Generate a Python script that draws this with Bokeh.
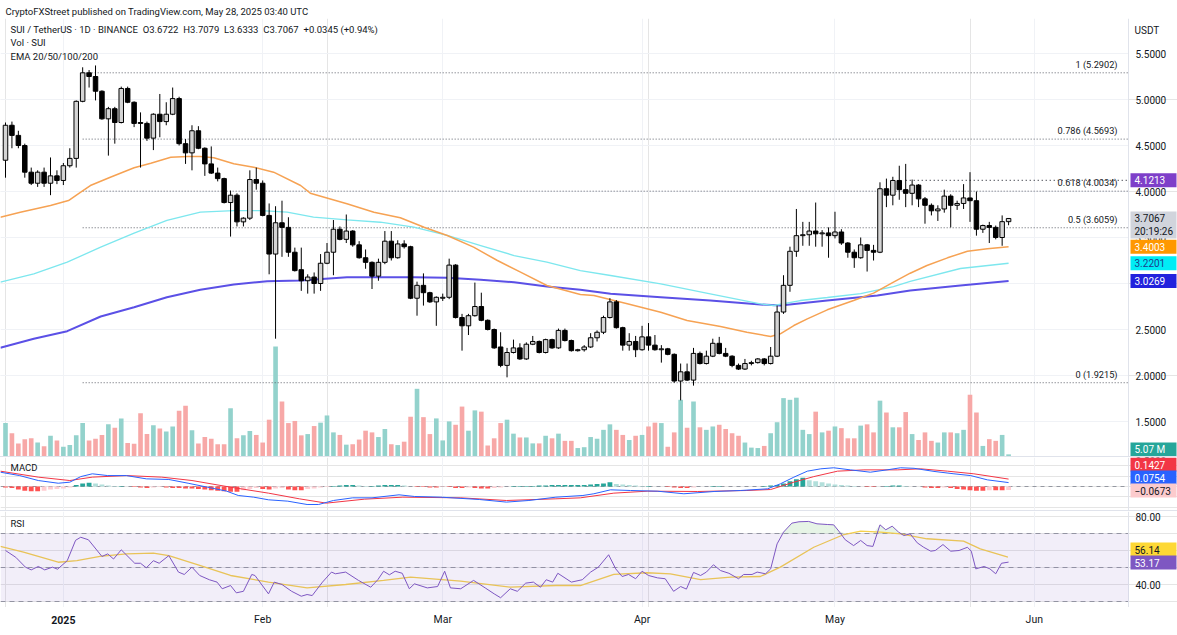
import numpy as np
from bokeh.plotting import figure
from bokeh.layouts import column
from bokeh.models import (ColumnDataSource, Range1d, FixedTicker, Div, Span,
                          BoxAnnotation, Grid)
from bokeh.core.properties import value
from bokeh.embed import file_html
from bokeh.resources import INLINE

FONT = "Roboto"
INK = "#131722"
FS = "10px"
FS_NOTE = "9.5px"

# ---- SUI/USDT daily candles, day 0 = 2024-12-23, last = 2025-05-28 ----
opens = [4.34, 4.72, 4.61, 4.50, 4.21, 4.09, 4.21, 4.09, 4.17,
         4.12, 4.28, 4.36, 4.98, 5.29, 5.25, 5.09, 4.79, 4.90, 4.75,
         5.12, 4.97, 4.75, 4.74, 4.58, 4.84, 4.76, 4.84, 5.01, 4.52,
         4.42, 4.66, 4.47, 4.30, 4.20, 4.14, 3.88, 3.96, 3.67, 3.71, 4.13,
         4.09, 3.74, 3.32, 3.66, 3.61, 3.34, 3.15, 3.03, 3.07, 3.00,
         3.22, 3.34, 3.59, 3.48, 3.57, 3.42, 3.28, 3.23, 3.08, 3.23,
         3.46, 3.28, 3.43, 3.40, 2.84, 2.98, 2.90, 2.80,
         2.84, 2.85, 3.20, 2.63, 2.54, 2.65, 2.75, 2.60, 2.50, 2.31,
         2.11, 2.25, 2.30, 2.18, 2.34, 2.37, 2.25, 2.39, 2.30, 2.49,
         2.38, 2.27, 2.28, 2.31, 2.41, 2.47, 2.63, 2.80, 2.52, 2.33, 2.37,
         2.28, 2.42, 2.33, 2.28, 2.29, 2.23, 1.94, 2.04, 1.95, 2.24,
         2.13, 2.21, 2.35, 2.24, 2.21, 2.11, 2.07, 2.13, 2.14, 2.18,
         2.13, 2.21, 2.69, 2.98, 3.35, 3.52, 3.53, 3.57, 3.54, 3.55,
         3.52, 3.56, 3.44, 3.34, 3.28, 3.42, 3.36, 3.34, 4.03, 3.96,
         4.12, 4.02, 3.98, 4.07, 3.92, 3.85, 3.79, 3.81, 3.95, 3.85,
         3.87, 3.93, 3.90, 3.59, 3.63, 3.61, 3.50, 3.6722]
highs = [4.75, 4.76, 4.66, 4.52, 4.26, 4.23, 4.26, 4.37, 4.23,
         4.31, 4.47, 4.99, 5.35, 5.32, 5.37, 5.10, 4.92, 4.92, 5.14,
         5.14, 4.98, 4.86, 4.76, 4.85, 5.06, 4.97, 5.13, 5.03, 4.57,
         4.72, 4.71, 4.48, 4.49, 4.26, 4.15, 4.01, 3.98, 3.72, 4.23, 4.26,
         4.12, 3.87, 3.84, 3.90, 3.72, 3.39, 3.39, 3.10, 3.12, 3.32,
         3.44, 3.69, 3.62, 3.75, 3.58, 3.46, 3.37, 3.24, 3.27, 3.57,
         3.57, 3.47, 3.47, 3.41, 3.02, 3.11, 2.91, 2.86,
         2.89, 3.27, 3.21, 2.67, 2.67, 3.01, 2.90, 2.61, 2.51, 2.47,
         2.30, 2.39, 2.35, 2.36, 2.43, 2.38, 2.40, 2.40, 2.51, 2.51,
         2.39, 2.29, 2.33, 2.46, 2.49, 2.65, 2.84, 2.82, 2.53, 2.46, 2.43,
         2.54, 2.57, 2.44, 2.33, 2.30, 2.24, 2.13, 2.13, 2.30, 2.26,
         2.27, 2.40, 2.42, 2.30, 2.22, 2.13, 2.18, 2.16, 2.19, 2.19,
         2.31, 2.76, 3.09, 3.40, 3.81, 3.67, 3.67, 3.88, 3.58, 3.61,
         3.78, 3.59, 3.45, 3.37, 3.50, 3.43, 3.42, 4.10, 4.14, 4.16,
         4.28, 4.30, 4.13, 4.08, 3.94, 3.87, 3.85, 4.02, 3.97, 3.90,
         4.08, 4.21, 4.00, 3.64, 3.67, 3.63, 3.74, 3.7079]
lows = [4.15, 4.47, 4.47, 4.15, 4.07, 4.05, 4.05, 3.96, 4.08,
        4.07, 4.26, 4.26, 4.97, 5.13, 4.99, 4.78, 4.39, 4.52, 4.74,
        4.96, 4.70, 4.26, 4.55, 4.45, 4.59, 4.72, 4.83, 4.50, 4.30,
        4.23, 4.46, 4.17, 4.19, 4.11, 3.87, 3.51, 3.62, 3.62, 3.69, 4.02,
        3.73, 3.10, 2.40, 3.29, 3.29, 3.13, 2.92, 2.89, 2.89, 2.92,
        3.21, 3.09, 3.47, 3.44, 3.40, 3.27, 3.16, 2.94, 3.03, 3.21,
        3.25, 3.27, 3.38, 2.83, 2.65, 2.76, 2.79, 2.54,
        2.81, 2.83, 2.62, 2.27, 2.44, 2.64, 2.59, 2.49, 2.29, 2.09,
        1.98, 2.24, 2.17, 2.17, 2.33, 2.24, 2.24, 2.29, 2.29, 2.37,
        2.26, 2.26, 2.26, 2.30, 2.37, 2.45, 2.62, 2.51, 2.27, 2.27, 2.20,
        2.27, 2.27, 2.27, 2.14, 2.22, 1.92, 1.73, 1.94, 1.89, 2.12,
        2.12, 2.20, 2.23, 2.20, 2.09, 2.06, 2.06, 2.11, 2.13, 2.11,
        2.12, 2.20, 2.67, 2.91, 3.29, 3.41, 3.41, 3.40, 3.40, 3.28,
        3.49, 3.42, 3.28, 3.17, 3.27, 3.13, 3.25, 3.33, 3.83, 3.85,
        3.91, 3.83, 3.85, 3.83, 3.65, 3.74, 3.68, 3.77, 3.61, 3.80,
        3.81, 3.67, 3.52, 3.55, 3.44, 3.48, 3.41, 3.6333]
closes = [4.72, 4.61, 4.50, 4.21, 4.09, 4.21, 4.09, 4.17, 4.12,
          4.28, 4.36, 4.98, 5.29, 5.25, 5.09, 4.79, 4.90, 4.75, 5.12,
          4.97, 4.74, 4.74, 4.58, 4.84, 4.76, 4.84, 5.01, 4.52, 4.42,
          4.66, 4.47, 4.30, 4.20, 4.14, 3.88, 3.96, 3.67, 3.71, 4.13, 4.09,
          3.74, 3.32, 3.66, 3.61, 3.34, 3.14, 3.03, 3.07, 3.00, 3.22,
          3.34, 3.59, 3.48, 3.57, 3.42, 3.28, 3.23, 3.08, 3.23, 3.46,
          3.28, 3.43, 3.40, 2.84, 2.98, 2.90, 2.80, 2.85,
          2.85, 3.20, 2.63, 2.54, 2.65, 2.75, 2.60, 2.50, 2.30, 2.11,
          2.25, 2.30, 2.18, 2.34, 2.37, 2.25, 2.39, 2.30, 2.49, 2.38,
          2.27, 2.28, 2.31, 2.41, 2.47, 2.63, 2.80, 2.52, 2.33, 2.37, 2.28,
          2.42, 2.33, 2.28, 2.29, 2.23, 1.94, 2.04, 1.95, 2.24, 2.13,
          2.21, 2.35, 2.24, 2.21, 2.11, 2.07, 2.13, 2.14, 2.18, 2.13,
          2.21, 2.69, 2.98, 3.35, 3.52, 3.53, 3.57, 3.54, 3.55, 3.52,
          3.56, 3.44, 3.34, 3.28, 3.42, 3.36, 3.34, 4.03, 3.96, 4.12,
          4.02, 3.98, 4.07, 3.92, 3.85, 3.79, 3.81, 3.95, 3.85, 3.87,
          3.93, 3.90, 3.59, 3.63, 3.61, 3.50, 3.6722, 3.7067]

# daily volume, millions of SUI
volume_m = [79, 55, 31, 41, 43, 33, 24, 49, 38, 23,
            27, 50, 79, 38, 42, 51, 76, 68, 90, 32,
            30, 102, 53, 74, 66, 59, 71, 108, 120, 62,
            31, 46, 42, 29, 29, 114, 43, 50, 60, 51,
            33, 87, 260, 130, 79, 84, 50, 53, 72, 80,
            97, 57, 51, 28, 29, 40, 61, 57, 46, 65,
            29, 27, 35,
            94, 160, 93, 53, 90, 38, 83,
            75, 118, 61, 109, 106, 26, 43, 79, 87, 54,
            45, 45, 31, 31, 49, 43, 54, 37, 37, 20,
            22, 46, 42,
            63, 76, 63, 51, 39, 49, 51,
            71, 80, 79, 23, 57, 134, 68, 130, 69, 63,
            71, 75, 65, 55, 49, 33, 21, 20, 25, 55,
            81, 138, 134, 139, 63, 53, 106, 57, 61, 71,
            67, 43, 43, 73, 76, 57, 132, 104, 69, 69,
            105, 53, 39, 57, 37, 33, 57, 57, 55, 63,
            146, 104, 25, 41, 37, 51, 5.07]

# MACD histogram per day
macd_hist = [-0.02, -0.03,
             -0.06, -0.08, -0.09, -0.09, -0.08,
             -0.06, -0.05, -0.04, -0.02,
             0.03, 0.06, 0.07, 0.06,
             0.04, 0.02, 0.01,
             0.01, 0.00,
             -0.01, -0.02, -0.03,
             -0.02, -0.01,
             -0.02, -0.03, -0.03,
             -0.04, -0.04,
             -0.05, -0.06, -0.07, -0.08, -0.09, -0.10, -0.10,
             -0.07, -0.05, -0.03,
             -0.05, -0.06,
             -0.04, -0.03,
             -0.06, -0.07, -0.07,
             -0.05, -0.04, -0.02, -0.01,
             0.01, 0.02, 0.03, 0.03, 0.02,
             0.01, 0.01, 0.02,
             0.03, 0.03, 0.03, 0.02,
             0.00, -0.01, -0.01,
             -0.02, -0.02, -0.01, -0.01,
             -0.03, -0.03, -0.02,
             -0.03, -0.04, -0.04, -0.03, -0.02,
             0.00, 0.01, 0.01, 0.01, 0.01, 0.02,
             0.02, 0.03, 0.03, 0.03, 0.03,
             0.03, 0.03, 0.04, 0.05, 0.06, 0.08,
             0.05, 0.04, 0.03, 0.02, 0.01,
             0.01, 0.00, 0.00, -0.01,
             -0.02, -0.03, -0.03, -0.02,
             0.00, 0.00, 0.01, 0.01, 0.00, 0.00, 0.00, 0.00, 0.00, 0.00, 0.01,
             0.02, 0.03,
             0.06, 0.10, 0.14, 0.17,
             0.12, 0.10, 0.08, 0.06, 0.04, 0.03,
             0.02, 0.01, 0.00,
             -0.01, -0.01, 0.00,
             0.01, 0.02, 0.02, 0.01,
             0.00, 0.00,
             -0.02, -0.03, -0.03,
             -0.02, -0.03,
             -0.05, -0.06, -0.07, -0.08, -0.08,
             -0.07, -0.07, -0.07, -0.0673]

# moving averages (day index, price)
ema_org_day = [-0.8, 2.3, 7.0, 9.8, 11.7, 13.2, 16.3, 20.0, 22.6, 25.7,
               28.3, 30.3, 32.4, 35.5, 38.6, 41.7, 45.9, 47.4, 53.1, 57.3,
               61.4, 65.1, 68.7, 72.8, 76.5, 80.1, 84.2, 89.4, 91.5, 96.7,
               101.9, 106.0, 111.2, 115.3, 119.0, 120.5, 122.6, 124.7, 127.8, 131.9,
               135.0, 138.1, 140.7, 143.3, 146.5, 149.6, 152.7, 156]
ema_org = [3.721, 3.775, 3.848, 3.902, 3.992, 4.065, 4.155, 4.258, 4.308, 4.373,
           4.380, 4.380, 4.366, 4.301, 4.264, 4.210, 4.065, 3.982, 3.866, 3.775,
           3.714, 3.612, 3.522, 3.395, 3.250, 3.123, 2.978, 2.880, 2.870, 2.779,
           2.688, 2.598, 2.533, 2.471, 2.424, 2.453, 2.543, 2.616, 2.714, 2.815,
           2.895, 3.014, 3.112, 3.196, 3.279, 3.351, 3.377, 3.4003]
ema_cyan_day = [-0.8, 4.4, 9.6, 14.8, 20.0, 25.1, 30.3, 35.5, 39.7, 43.8,
                47.9, 53.1, 58.3, 63.5, 68.7, 73.9, 79.1, 84.2, 89.4, 94.1,
                101.9, 109.6, 117.4, 119.5, 123.6, 127.8, 133.0, 138.1, 140.7, 148.5, 156]
ema_cyan = [3.014, 3.105, 3.232, 3.395, 3.547, 3.685, 3.775, 3.793, 3.793, 3.775,
            3.721, 3.692, 3.666, 3.612, 3.522, 3.413, 3.304, 3.232, 3.141, 3.087,
            2.997, 2.888, 2.779, 2.761, 2.815, 2.848, 2.891, 2.967, 3.022, 3.163, 3.2201]
ema_blue_day = [-0.8, 4.4, 9.6, 14.8, 20.0, 25.1, 30.3, 35.5, 40.7, 45.9,
                53.1, 63.5, 68.7, 73.9, 79.1, 84.2, 89.4, 94.1, 101.9, 109.6,
                117.4, 120.5, 127.8, 135.6, 140.7, 148.5, 156]
ema_blue = [2.301, 2.399, 2.482, 2.641, 2.742, 2.851, 2.932, 2.989, 3.025, 3.033,
            3.068, 3.068, 3.062, 3.040, 3.014, 2.967, 2.932, 2.888, 2.851, 2.815,
            2.772, 2.761, 2.815, 2.870, 2.924, 2.978, 3.0269]

# MACD and signal lines (day index, value)
macd_day = [-0.8, 2.2, 5.1, 8.2, 10.0, 11.7, 13.5, 15.9, 18.8, 21.9,
            25.4, 28.4, 31.4, 34.4, 36.2, 38.6, 40.9, 43.9, 46.9, 48.7,
            51.0, 54.0, 57.0, 61.2, 63.6, 67.7, 73.7, 77.9, 81.4, 85.6,
            89.8, 91.5, 94.1, 97.2, 101.4, 105.5, 110.2, 114.3, 118.5, 120.5,
            122.6, 124.7, 126.8, 128.8, 131.4, 134.5, 137.1, 139.2, 141.3, 144.4,
            147.5, 150.1, 152.7, 156]
macd_line = [0.275, 0.21, 0.115, 0.063, 0.083, 0.19, 0.244, 0.21, 0.21, 0.147,
             0.135, 0.063, -0.013, -0.09, -0.173, -0.205, -0.256, -0.282, -0.346, -0.346,
             -0.269, -0.218, -0.218, -0.16, -0.192, -0.205, -0.25, -0.30, -0.269, -0.205,
             -0.173, -0.14, -0.064, -0.077, -0.09, -0.14, -0.096, -0.077, -0.045, 0.051,
             0.179, 0.295, 0.34, 0.36, 0.32, 0.275, 0.32, 0.36, 0.35, 0.29,
             0.244, 0.21, 0.128, 0.0754]
signal_day = [-0.8, 5.1, 10.0, 13.5, 18.8, 24.3, 29.0, 35.0, 40.9, 45.7,
              49.9, 55.8, 61.8, 70.8, 77.9, 85.6, 89.4, 94.6, 99.8, 107.6,
              115.3, 119.0, 122.6, 125.7, 129.4, 133.5, 138.7, 142.3, 146.5, 150.6, 156]
signal_line = [0.295, 0.18, 0.115, 0.18, 0.21, 0.18, 0.115, -0.013, -0.128, -0.237,
               -0.32, -0.244, -0.205, -0.218, -0.269, -0.237, -0.218, -0.128, -0.09, -0.096,
               -0.077, -0.058, 0.083, 0.19, 0.295, 0.32, 0.32, 0.34, 0.295, 0.244, 0.1427]

# RSI and its moving average (day index, value)
rsi_day = [0, 1.6, 3.1, 4.0, 5.1, 6.1, 7.3, 8.1, 9.6, 10.9,
           11.7, 12.9, 15.0, 15.9, 16.8, 18.0, 20.1, 21.0, 21.9, 23.0,
           23.9, 25.4, 26.9, 27.8, 29.0, 30.2, 31.7, 32.9, 33.7, 35.0,
           35.9, 37.0, 38.3, 38.8, 40.9, 41.8, 43.0, 44.5, 46.0, 46.9,
           47.7, 49.3, 50.7, 51.3, 52.9, 54.9, 56.8, 57.9, 58.8, 59.7,
           60.6, 61.7, 62.8, 63.6, 65.6, 67.2, 68.3, 69.2, 70.8, 72.8,
           74.6, 76.0, 77.0, 78.5, 79.6, 80.9, 82.1, 83.2, 84.1, 85.1,
           85.9, 88.0, 89.7, 91.0, 92.2, 93.8, 94.9, 95.9, 96.9, 98.0,
           99.0, 100.0, 101.4, 102.6, 103.9, 105.0, 105.9, 107.0, 108.1, 109.0,
           110.1, 111.2, 112.5, 114.0, 114.8, 116.1, 116.9, 118.2, 119.0, 120.0,
           121.0, 122.3, 123.4, 124.9, 126.2, 127.8, 128.8, 129.6, 130.6, 131.9,
           133.0, 134.0, 134.9, 136.0, 136.9, 137.9, 138.9, 139.7, 140.7, 141.8,
           142.8, 143.9, 144.6, 145.8, 147.0, 148.3, 149.6, 150.2, 150.9, 152.2,
           153.1, 154.0, 154.9, 156]
rsi = [60, 56, 50.2, 48.6, 50.6, 48.6, 50.2, 49, 54, 66,
       67.8, 66.3, 56.5, 58, 55, 60.4, 52.5, 52.5, 49.8, 54,
       52.5, 57, 47.3, 45.9, 50.2, 45.3, 42.8, 41.4, 37.5, 39.4,
       35.1, 36, 45.9, 45.3, 34.5, 41.4, 40, 36, 33.1, 34.1,
       33.5, 41.4, 47.3, 46.3, 47.3, 42.4, 38.4, 42.8, 47.8, 45.7,
       47.8, 46.6, 37.5, 40.4, 38, 38.8, 47.8, 38, 37.5, 42.4,
       38, 34.5, 32.2, 37.5, 36, 40.8, 41.4, 38.4, 42.8, 41.4,
       46.6, 41.4, 42.8, 47.3, 50.2, 57.5, 49.2, 44.7, 45.9, 43.4,
       47.8, 45.3, 43.9, 43.4, 36, 38.8, 37.3, 47.1, 45.3, 47.3,
       51.6, 48.2, 46.6, 43.4, 45.9, 45.9, 47.3, 46.3, 49.2, 63.9,
       70.8, 76.1, 76.9, 77.1, 75.7, 75.3, 75.1, 71.4, 66.3, 62.9,
       65.9, 62.9, 62.4, 75.1, 72.2, 74.3, 70.8, 68.8, 69.8, 64.5,
       61.9, 59.6, 60, 63.5, 59.6, 60, 61.9, 59.6, 49.2, 50.6,
       49.2, 46.3, 52.5, 53.17]
rsi_ma_day = [-0.8, 2.8, 8.2, 11.1, 14.7, 18.8, 23.0, 25.4, 30.2, 35.0,
              40.9, 46.9, 52.9, 58.8, 63.0, 70.8, 78.5, 85.6, 89.4, 94.6,
              99.8, 103.4, 108.1, 112.8, 117.4, 120.5, 125.7, 130.4, 133.0, 136.1,
              139.2, 143.3, 149.0, 151.6, 155.9]
rsi_ma = [62.4, 59, 53.1, 54, 56.5, 58, 58.4, 57, 51.2, 45.3,
          41.4, 38, 40, 42.4, 44.3, 42, 38.4, 39.4, 39.4, 45.9,
          46.9, 46.3, 42.9, 44.3, 44.7, 50.2, 61.9, 69.4, 71.4, 70.8,
          69.8, 66.9, 65.5, 61, 56.14]

# Fibonacci retracement drawn from Jan 4, and a level ray from May 12
fib_ratio = ["1", "0.786", "0.618", "0.5", "0"]
fib_price = [5.2902, 4.5693, 4.0034, 3.6059, 1.9215]
fib_from_day = 12
ray_price, ray_from_day = 4.1213, 140

price_ticks = [1.5, 2.0, 2.5, 3.0, 3.5, 4.0, 4.5, 5.0, 5.5]
macd_ticks = [0.5]
rsi_ticks = [40, 80]
month_day = [9, 40, 68, 99, 129, 160]
month_label = ["2025", "Feb", "Mar", "Apr", "May", "Jun"]

# ---------------------------------------------------------------------------
n = len(closes)
day = np.arange(n)
o, h, l, c = map(np.asarray, (opens, highs, lows, closes))
up = c >= o

PX_PER_DAY = 6.43
W = 1177
SCALE_PX = 1128            # left edge of the price scale strip


def px2x(px):
    return (px - 5) / PX_PER_DAY


xr = Range1d(px2x(0), px2x(W))
X0, XS = px2x(0), px2x(SCALE_PX)
FLAG_C, FLAG_T = px2x(SCALE_PX + 25), px2x(SCALE_PX + 6)
GRID = "#F0F2F6"
SEP = "#E0E3EB"


def pane(frame_h, yr, top=0, **kw):
    f = figure(frame_width=W, frame_height=frame_h, x_range=xr, y_range=yr,
               output_backend="svg", toolbar_location=None,
               x_axis_location=None, y_axis_location=None,
               min_border_left=0, min_border_right=0, min_border_top=top,
               min_border_bottom=0, **kw)
    f.outline_line_color = None
    f.background_fill_color = "#FFFFFF"
    f.border_fill_color = "#FFFFFF"
    f.add_layout(Grid(dimension=0, ticker=FixedTicker(ticks=month_day),
                      grid_line_color=GRID))
    f.add_layout(Span(location=XS, dimension="height", line_color=SEP, line_width=1))
    return f


def scale_labels(f, ticks, fmt, grid=True):
    if grid:
        f.segment(x0=[X0] * len(ticks), x1=[XS] * len(ticks), y0=ticks, y1=ticks,
                  line_color=GRID, line_width=1)
    f.text(x=[XS] * len(ticks), y=ticks, text=[fmt.format(t) for t in ticks],
           x_offset=7, text_font=value(FONT), text_font_size=FS, text_color=INK,
           text_align="left", text_baseline="middle")


def flag(f, y, text, bg, fg="#FFFFFF", rng="default", h=14, ytext=None):
    f.rect(x=[FLAG_C], y=[y], width=46, height=h, width_units="screen",
           height_units="screen", fill_color=bg, line_color=None, y_range_name=rng)
    f.text(x=[FLAG_T], y=[y if ytext is None else ytext], text=[text],
           text_font=value(FONT), text_font_size=FS, text_color=fg,
           text_align="left", text_baseline="middle", y_range_name=rng)


def note(f, px, y, text, size=FS_NOTE):
    f.text(x=[px2x(px)], y=[y], text=[text], text_font=value(FONT),
           text_font_size=size, text_color=INK, text_align="left",
           text_baseline="middle")


# --- price pane: price = 5.5 - (py - 53) / 92 in page pixels ---
def py2price(py):
    return 5.5 - (py - 53) / 92.0


main = pane(438, Range1d(py2price(456), py2price(18)), top=18,
            title="CryptoFXStreet published on TradingView.com, May 28, 2025 03:40 UTC")
main.title.text_font = FONT
main.title.text_font_size = FS_NOTE
main.title.text_font_style = "normal"
main.title.text_color = INK
main.title.align = "left"
main.title.offset = 5
main.title.standoff = 3
scale_labels(main, price_ticks, "{:.4f}")

# volume overlay on its own scale (baseline at the pane bottom)
VOL_TOP = 438 * 260 / 110.0
main.extra_y_ranges = {"vol": Range1d(0, VOL_TOP)}
vsrc = ColumnDataSource(dict(x=day, v=volume_m,
                             col=np.where(up, "#93D2CC", "#F7A8A7")))
main.vbar(x="x", top="v", bottom=0, width=0.72, source=vsrc, fill_color="col",
          line_color=None, y_range_name="vol")

# fib levels
k = len(fib_price)
main.segment(x0=[fib_from_day] * k, x1=[XS] * k, y0=fib_price, y1=fib_price,
             line_color="#5E616B", line_width=1, line_dash="1 2")
main.text(x=[px2x(SCALE_PX - 11)] * k, y=fib_price,
          text=[f"{r} ({p:.4f})" for r, p in zip(fib_ratio, fib_price)],
          y_offset=-3, text_font=value(FONT), text_font_size="9.2px", text_color=INK,
          text_align="right", text_baseline="bottom")
main.segment(x0=[ray_from_day], x1=[XS], y0=[ray_price], y1=[ray_price],
             line_color="#3A3D46", line_width=1.3, line_dash="1 3")

# moving averages
main.line(ema_blue_day, ema_blue, line_color="#5B50E6", line_width=2)
main.line(ema_cyan_day, ema_cyan, line_color="#7DE7EE", line_width=1.3)
main.line(ema_org_day, ema_org, line_color="#F6A253", line_width=1.5)

# candles
csrc = ColumnDataSource(dict(x=day, hi=h, lo=l,
                             top=np.maximum(o, c), bot=np.minimum(o, c),
                             fill=np.where(up, "#D4D4D4", "#000000")))
main.segment(x0="x", x1="x", y0="lo", y1="hi", source=csrc, line_color="#000000",
             line_width=1)
main.vbar(x="x", top="top", bottom="bot", width=0.7, source=csrc,
          fill_color="fill", line_color="#000000", line_width=1)

# legend lines
GAP = "\u2002"
note(main, 10, py2price(29),
     f"SUI / TetherUS \u00b7 1D \u00b7 BINANCE{GAP}O3.6722{GAP}H3.7079{GAP}"
     f"L3.6333{GAP}C3.7067{GAP}+0.0345 (+0.94%)")
note(main, 10, py2price(42), "Vol \u00b7 SUI")
note(main, 10, py2price(56), "EMA 20/50/100/200")

# scale flags
main.text(x=[FLAG_T], y=[py2price(30)], text=["USDT"], text_font=value(FONT),
          text_font_size=FS, text_color=INK, text_align="left",
          text_baseline="middle")
flag(main, ray_price, f"{ray_price:.4f}", "#7E3FC9")
flag(main, closes[-1] - 6.5 / 92.0, f"{closes[-1]:.4f}", "#D1D4DC", fg=INK, h=27,
     ytext=closes[-1])
main.text(x=[FLAG_T], y=[closes[-1] - 13 / 92.0], text=["20:19:26"],
          text_font=value(FONT), text_font_size=FS, text_color=INK,
          text_align="left", text_baseline="middle")
flag(main, ema_org[-1], f"{ema_org[-1]:.4f}", "#FF9800")
flag(main, ema_cyan[-1], f"{ema_cyan[-1]:.4f}", "#00EDF5", fg="#1C3A8C")
flag(main, ema_blue[-1], f"{ema_blue[-1]:.4f}", "#2222DD")
flag(main, 7 * VOL_TOP / 438.0, f"{volume_m[-1]:.2f} M", "#26A69A", rng="vol")

# --- MACD pane: value = (486 - py) / 52 ---
def py2macd(py):
    return (486 - py) / 52.0


macd = pane(53, Range1d(py2macd(510), py2macd(457)))
scale_labels(macd, macd_ticks, "{:.4f}", grid=False)
hist = np.asarray(macd_hist)
prev = np.concatenate([[hist[0]], hist[:-1]])
hcol = np.where(hist >= 0, np.where(hist >= prev, "#26A69A", "#B2DFDB"),
                np.where(hist <= prev, "#FF5252", "#FFCDD2"))
macd.segment(x0=[X0], x1=[XS], y0=[0], y1=[0], line_color="#9598A1",
             line_dash="4 4", line_width=1)
macd.vbar(x=day, top=hist, bottom=0, width=0.75, fill_color=hcol, line_color=None)
macd.line(signal_day, signal_line, line_color="#F23645", line_width=1)
macd.line(macd_day, macd_line, line_color="#2962FF", line_width=1)
note(macd, 10, py2macd(467), "MACD")
flag(macd, py2macd(464), f"{signal_line[-1]:.4f}", "#F23645")
flag(macd, py2macd(477), f"{macd_line[-1]:.4f}", "#2962FF")
flag(macd, py2macd(490), f"{macd_hist[-1]:.4f}".replace("-", "\u2212"), "#FCCBCD", fg=INK)

# --- RSI pane: rsi = 50 - (py - 567) / 1.7 ---
def py2rsi(py):
    return 50 - (py - 567) / 1.7


rsip = pane(96, Range1d(py2rsi(607), py2rsi(511)))
rsip.add_layout(BoxAnnotation(left=X0, right=XS, bottom=30, top=70,
                              fill_color="#7E57C2", fill_alpha=0.1, line_color=None))
rsip.segment(x0=[X0] * 3, x1=[XS] * 3, y0=[70, 50, 30], y1=[70, 50, 30],
             line_color="#9598A1", line_dash="5 4", line_width=1)
scale_labels(rsip, rsi_ticks, "{:.2f}", grid=False)
rv = np.asarray(rsi, dtype=float)
rsip.varea(x=rsi_day, y1=np.full(len(rv), 70.0), y2=np.maximum(rv, 70.0),
           fill_color="#4CAF50", fill_alpha=0.14)
rsip.line(rsi_ma_day, rsi_ma, line_color="#F5D04C", line_width=1.3)
rsip.line(rsi_day, rsi, line_color="#7E57C2", line_width=1)
note(rsip, 10, py2rsi(523), "RSI")
flag(rsip, py2rsi(549), f"{rsi_ma[-1]:.2f}", "#FDD835", fg=INK)
flag(rsip, py2rsi(562), f"{rsi[-1]:.2f}", "#7E57C2")

# --- time labels row ---
tl = pane(28, Range1d(0, 1))
for g in tl.center:
    if isinstance(g, (Grid, Span)):
        g.visible = False
tl.text(x=month_day[:1], y=[0.57], text=month_label[:1], text_font=value(FONT),
        text_font_size="10.5px", text_font_style="bold", text_color=INK,
        text_align="center", text_baseline="middle")
tl.text(x=month_day[1:], y=[0.57] * (len(month_day) - 1), text=month_label[1:],
        text_font=value(FONT), text_font_size="10.5px", text_color=INK,
        text_align="center", text_baseline="middle")


def sep():
    return Div(width=W, height=1, margin=0,
               styles={"background-color": SEP, "overflow": "hidden"})


layout = column(main, sep(), macd, sep(), rsip, tl, spacing=0)
open("out.html", "w").write(file_html(layout, INLINE, title="SUI/USDT"))
